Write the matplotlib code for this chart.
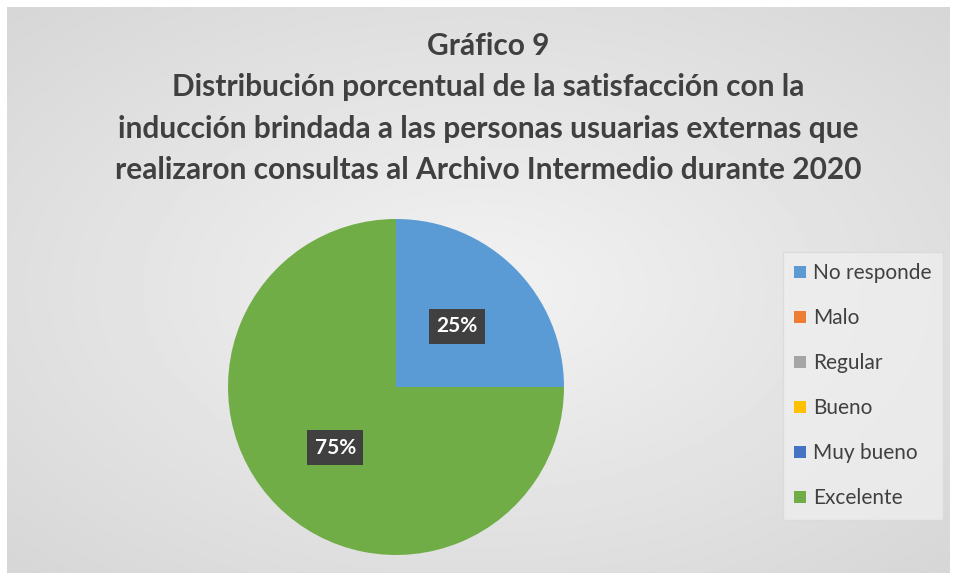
# encoding:utf-8
# pie chart: satisfaccion con la induccion, Archivo Intermedio 2020

import numpy as np
import matplotlib.pyplot as plt
from matplotlib.patches import Patch

plt.rcParams['font.family'] = ['Lato', 'DejaVu Sans']

CATEGORIES = ['No responde', 'Malo', 'Regular', 'Bueno', 'Muy bueno', 'Excelente']
VALUES = [25, 0, 0, 0, 0, 75]
COLORS = ['#5B9BD5', '#ED7D31', '#A5A5A5', '#FFC000', '#4472C4', '#70AD47']
TITLE = ('Gráfico 9\n'
         'Distribución porcentual de la satisfacción con la\n'
         'inducción brindada a las personas usuarias externas que\n'
         'realizaron consultas al Archivo Intermedio durante 2020')

W, H = 956, 580
fig = plt.figure(figsize=(W / 100, H / 100), dpi=100)
fig.patch.set_facecolor('white')

# radial gray background of the chart area
bg = fig.add_axes([7 / W, 7 / H, (W - 14) / W, (H - 14) / H])
yy, xx = np.mgrid[-1:1:300j, -1:1:500j]
rr = np.sqrt(xx ** 2 + yy ** 2) / np.sqrt(2)
bg.imshow(0.95 - 0.11 * rr, cmap='gray', vmin=0, vmax=1, aspect='auto',
          extent=[0, 1, 0, 1])
bg.set_axis_off()

fig.text(488 / W, 1 - 108 / H, TITLE, ha='center', va='center',
         fontsize=21.5, fontweight='bold', color='#404040', linespacing=1.57)

# pie
cx, cy, r = 396, 387, 168
ax = fig.add_axes([(cx - r) / W, (H - cy - r) / H, 2 * r / W, 2 * r / H])
wedges, _ = ax.pie(VALUES, colors=COLORS, startangle=90, counterclock=False,
                   wedgeprops=dict(edgecolor='none'))
ax.set_xlim(-1, 1)
ax.set_ylim(-1, 1)
ax.set_aspect('equal')

total = sum(VALUES)
start = 90
for v in VALUES:
    ang = start - v / total * 360 / 2
    start -= v / total * 360
    if v == 0:
        continue
    t = np.deg2rad(ang)
    ax.text(0.51 * np.cos(t), 0.51 * np.sin(t), f'{v / total:.0%}',
            ha='center', va='center', fontsize=15, fontweight='bold',
            color='white',
            bbox=dict(boxstyle='square,pad=0.35', facecolor='#404040',
                      edgecolor='none'))

# legend
handles = [Patch(facecolor=c, edgecolor='none') for c in COLORS]
leg = fig.legend(handles, CATEGORIES, loc='upper left',
                 bbox_to_anchor=(783 / W, 1 - 252 / H), frameon=True,
                 fontsize=15, labelspacing=1.2, handlelength=0.55,
                 handleheight=0.55, handletextpad=0.35, borderpad=0.55,
                 borderaxespad=0, labelcolor='#404040', fancybox=False)
leg.get_frame().set_facecolor('#f0f0f0')
leg.get_frame().set_edgecolor('#d8d8d8')
leg.get_frame().set_alpha(0.7)

fig.savefig('out.png', dpi=100)
